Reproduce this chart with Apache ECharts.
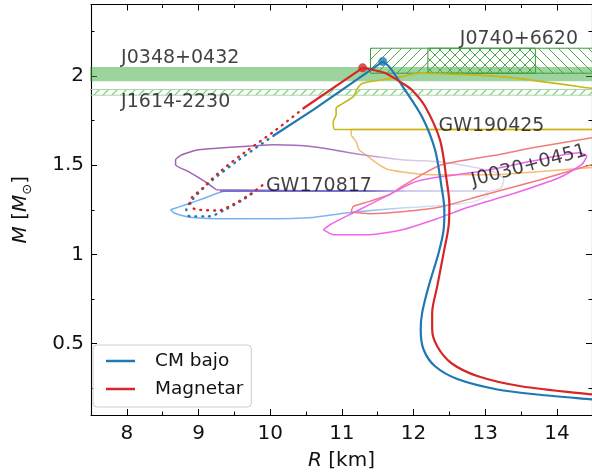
<!DOCTYPE html>
<html style="height: 100%">
<head>
<meta charset="utf-8">
<script src="https://cdn.jsdelivr.net/npm/echarts@6/dist/echarts.min.js"></script>
</head>
<body style="height: 100%; margin: 0">
<div id="container" style="width: 592px; height: 476px"></div>
<script>

// ticks
var rTicks = [8, 9, 10, 11, 12, 13, 14];
var rMinorTicks = [7.5, 8.5, 9.5, 10.5, 11.5, 12.5, 13.5];
var mTicks = [0.5, 1, 1.5, 2];
var mMinorTicks = [0.25, 0.75, 1.25, 1.75, 2.25];

// mass-radius curves, [R km, M Msun]
var cmStable = [[14.70, 0.180], [14.49, 0.187], [13.72, 0.215], [13.17, 0.243], [12.62, 0.300], [12.30, 0.373],
    [12.14, 0.467], [12.10, 0.579], [12.12, 0.672], [12.21, 0.820], [12.35, 1.008], [12.42, 1.138], [12.43, 1.250],
    [12.39, 1.380], [12.30, 1.586], [12.12, 1.770], [11.85, 1.940], [11.66, 2.052], [11.57, 2.080]];
var cmUnstable = [[11.57, 2.080], [10.60, 1.810], [10.05, 1.666]];
var cmDotted = [[10.05, 1.666], [9.55, 1.526], [9.16, 1.405], [8.90, 1.300], [8.83, 1.250], [8.88, 1.213],
    [9.14, 1.213], [9.37, 1.250], [9.62, 1.306], [9.78, 1.350]];
var cmMax = [11.57, 2.080];

var magStable = [[14.70, 0.208], [14.49, 0.215], [13.50, 0.261], [12.90, 0.317], [12.53, 0.390], [12.33, 0.485],
    [12.26, 0.580], [12.26, 0.672], [12.33, 0.820], [12.42, 1.008], [12.49, 1.160], [12.50, 1.280], [12.46, 1.420],
    [12.37, 1.640], [12.16, 1.830], [11.98, 1.920], [11.84, 1.960], [11.61, 2.015], [11.43, 2.034], [11.29, 2.045]];
var magUnstable = [[11.29, 2.045], [10.47, 1.820]];
var magDotted = [[10.47, 1.820], [10.05, 1.688], [9.66, 1.576], [9.30, 1.464], [9.05, 1.368], [8.88, 1.297],
    [8.92, 1.260], [9.00, 1.250], [9.27, 1.246], [9.50, 1.284], [9.71, 1.334], [9.92, 1.396]];
var magMax = [11.29, 2.045];

// pulsar mass bands [Rmin, Rmax, Mmin, Mmax]
var j0348 = [7.0, 15.0, 1.970, 2.050];
var j1614 = [7.0, 15.0, 1.892, 1.924];
var j0740a = [11.40, 13.70, 2.015, 2.155];
var j0740b = [12.20, 16.30, 2.015, 2.155];

// contours
var gw170817a = [[9.25, 1.362], [10.50, 1.356], [12.00, 1.355], [13.04, 1.353], [13.22, 1.373], [13.26, 1.418],
    [13.15, 1.457], [12.81, 1.491], [12.39, 1.518], [11.84, 1.530], [11.29, 1.558], [10.60, 1.603], [10.05, 1.614],
    [9.78, 1.608], [9.00, 1.586], [8.77, 1.558], [8.68, 1.530], [8.68, 1.502], [8.86, 1.464], [9.09, 1.408], [9.25, 1.362]];
var gw170817b = [[8.61, 1.250], [8.82, 1.278], [9.09, 1.316], [9.37, 1.353], [10.50, 1.354], [12.00, 1.354],
    [12.99, 1.353], [13.04, 1.334], [12.85, 1.297], [12.53, 1.278], [11.84, 1.260], [11.06, 1.232], [10.60, 1.207],
    [9.92, 1.200], [9.46, 1.200], [8.91, 1.207], [8.66, 1.232], [8.61, 1.250]];
var gw170817Edge = [[9.30, 1.355], [13.00, 1.355]];
var gw190425a = [[14.90, 1.700], [10.90, 1.700], [10.88, 1.744], [10.92, 1.782], [10.92, 1.819], [11.02, 1.847],
    [11.16, 1.884], [11.22, 1.931], [11.29, 1.959], [11.57, 1.978], [11.84, 1.996], [12.07, 2.015], [13.22, 1.996],
    [14.49, 1.930], [14.90, 1.905]];
var gw190425b = [[11.13, 1.700], [11.13, 1.670], [11.20, 1.632], [11.24, 1.586], [11.39, 1.541], [11.52, 1.502],
    [11.66, 1.474], [11.98, 1.455], [12.30, 1.446], [13.08, 1.446], [13.77, 1.464], [14.49, 1.487], [14.90, 1.500],
    [14.90, 1.700], [11.13, 1.700]];
var j0030a = [[11.13, 1.237], [11.16, 1.269], [11.385, 1.297], [11.66, 1.334], [11.84, 1.381], [12.07, 1.436],
    [12.39, 1.502], [13.20, 1.560], [13.66, 1.597], [14.49, 1.653], [14.90, 1.680], [14.90, 1.520], [14.49, 1.502],
    [13.77, 1.418], [12.94, 1.328], [12.39, 1.267], [11.84, 1.239], [11.385, 1.228], [11.13, 1.237]];
var j0030b = [[10.74, 1.138], [10.835, 1.166], [11.155, 1.232], [11.614, 1.325], [11.98, 1.400], [12.284, 1.429],
    [12.97, 1.467], [13.66, 1.523], [14.307, 1.569], [14.417, 1.551], [14.348, 1.504], [14.03, 1.429], [13.43, 1.345],
    [12.74, 1.261], [12.33, 1.200], [11.84, 1.138], [11.385, 1.110], [10.88, 1.110], [10.74, 1.138]];

// annotations
var labelTexts = ['J0348+0432', 'J1614-2230', 'J0740+6620', 'GW190425', 'GW170817', 'J0030+0451'];
var labelAnchors = [[7.99, 2.100], [7.99, 1.852], [12.715, 2.207], [12.417, 1.717], [10.01, 1.382], [13.61, 1.496]];
var labelAngles = [0, 0, 0, 0, 0, 15];

var FONT = 'DejaVu Sans';
var BLUE = '#1f77b4', RED = '#d62728';

function hatch(color, dir, step, lw) {
    var c = document.createElement('canvas');
    c.width = step; c.height = step;
    var g = c.getContext('2d');
    g.strokeStyle = color; g.lineWidth = lw;
    g.beginPath();
    if (dir > 0) {
        g.moveTo(-1, step + 1); g.lineTo(step + 1, -1);
        g.moveTo(-1, 1); g.lineTo(1, -1);
        g.moveTo(step - 1, step + 1); g.lineTo(step + 1, step - 1);
    } else {
        g.moveTo(-1, -1); g.lineTo(step + 1, step + 1);
        g.moveTo(step - 1, -1); g.lineTo(step + 1, 1);
        g.moveTo(-1, step - 1); g.lineTo(1, step + 1);
    }
    g.stroke();
    return { image: c, repeat: 'repeat' };
}

function band(data, fill, stroke, lw) {
    return {
        type: 'custom', data: [data], clip: true, silent: true, z: 1,
        renderItem: function (params, api) {
            var lo = api.coord([api.value(0), api.value(2)]);
            var hi = api.coord([api.value(1), api.value(3)]);
            return {
                type: 'rect',
                shape: { x: lo[0], y: hi[1], width: hi[0] - lo[0], height: lo[1] - hi[1] },
                style: { fill: fill, stroke: stroke, lineWidth: lw }
            };
        }
    };
}

function curve(data, color, width, z, smooth, name) {
    return {
        name: name, type: 'line', data: data, symbol: 'none', showSymbol: false, smooth: smooth,
        lineStyle: { color: color, width: width }, itemStyle: { color: color }, z: z, silent: true
    };
}

function dotted(data, color) {
    var s = curve(data, color, 2.4, 3, 0.3);
    s.lineStyle = { color: color, width: 2.4, type: [0.8, 6], cap: 'round' };
    return s;
}

function hgrad(stops) {
    return new echarts.graphic.LinearGradient(0, 0, 1, 0, stops.map(function (s) {
        return { offset: s[0], color: s[1] };
    }));
}

var dom = document.getElementById('container');
var myChart = echarts.init(dom);

var axisBase = { type: 'value', min: 7.5, max: 14.49, splitLine: { show: false } };
var yBase = { type: 'value', min: 0.1, max: 2.4, splitLine: { show: false } };
var lineBlack = { show: true, lineStyle: { color: '#000', width: 1.1 } };

function xAx(pos, major, extra) {
    return Object.assign({}, axisBase, {
        position: pos,
        axisLine: major ? lineBlack : { show: false },
        axisTick: { show: true, inside: true, length: major ? 6 : 3.5, customValues: major ? rTicks : rMinorTicks,
            lineStyle: { color: '#000', width: 1 } },
        axisLabel: { show: false }
    }, extra || {});
}
function yAx(pos, major, extra) {
    return Object.assign({}, yBase, {
        position: pos,
        axisLine: major ? lineBlack : { show: false },
        axisTick: { show: true, inside: true, length: major ? 6 : 3.5, customValues: major ? mTicks : mMinorTicks,
            lineStyle: { color: '#000', width: 1 } },
        axisLabel: { show: false }
    }, extra || {});
}

var option = {
    animation: false,
    backgroundColor: '#ffffff',
    grid: { left: 84, right: 0, top: 4.5, bottom: 60.5 },
    xAxis: [
        xAx('bottom', true, {
            axisLabel: { show: true, customValues: rTicks, margin: 9, fontSize: 20, fontFamily: FONT, color: '#111' },
            name: '{i|R} [km]', nameLocation: 'middle', nameGap: 36,
            nameTextStyle: { fontSize: 20, fontFamily: FONT, color: '#111', rich: { i: { fontStyle: 'italic', fontSize: 20, fontFamily: FONT } } }
        }),
        xAx('bottom', false),
        xAx('top', true),
        xAx('top', false)
    ],
    yAxis: [
        yAx('left', true, {
            axisLabel: { show: true, customValues: mTicks, margin: 7, fontSize: 20, fontFamily: FONT, color: '#111' },
            name: '{i|M} [{i|M}{s|⊙}]', nameLocation: 'middle', nameGap: 57, nameRotate: 90,
            nameTextStyle: { fontSize: 20, fontFamily: FONT, color: '#111', lineHeight: 26,
                rich: { i: { fontStyle: 'italic', fontSize: 20, fontFamily: FONT, lineHeight: 26 },
                        s: { fontSize: 13, fontFamily: FONT, verticalAlign: 'bottom', lineHeight: 26 } } }
        }),
        yAx('left', false),
        yAx('right', true),
        yAx('right', false)
    ],
    legend: {
        left: 93, top: 345, orient: 'vertical', data: ['CM bajo', 'Magnetar'],
        icon: 'rect', itemWidth: 29, itemHeight: 2.5, itemGap: 8,
        padding: [6, 8, 8, 13], backgroundColor: 'rgba(255,255,255,0.85)',
        borderColor: '#cccccc', borderWidth: 1, borderRadius: 4,
        textStyle: { fontFamily: FONT, fontSize: 18.5, color: '#111', lineHeight: 20, padding: [0, 0, 0, 15] }
    },
    series: [
        band(j0348, 'rgba(60,170,60,0.5)', null, 0),
        band(j1614, hatch('#7cc57c', 1, 9, 1.2), '#a6d8a6', 1),
        band(j0740a, hatch('#4aa84a', 1, 10, 1), '#3d9b3d', 1),
        band(j0740b, hatch('#4aa84a', -1, 10, 1), '#3d9b3d', 1),

        curve(gw190425b, '#f6bd72', 1.5, 2, 0.2),
        curve(gw190425a, '#c8b614', 1.6, 2, 0.2),
        curve(gw170817a, hgrad([[0, '#9c62b5'], [0.5, '#a670bf'], [0.68, '#d8c8e6'], [1, '#e2d8ee']]), 1.5, 2, 0.2),
        curve(gw170817b, hgrad([[0, '#74b0ee'], [0.6, '#80b8f0'], [0.75, '#c8dcf4'], [1, '#dce8f6']]), 1.5, 2, 0.2),
        curve(gw170817Edge, hgrad([[0, '#6e5cc8'], [0.55, '#6e5cc8'], [0.7, '#d0c8ee'], [1, '#dcd6f0']]), 1.6, 2, false),
        curve(j0030a, '#f07c7c', 1.5, 2, 0.2),
        curve(j0030b, '#ee66ee', 1.5, 2, 0.2),

        curve(cmStable, BLUE, 2.2, 3, 0.3, 'CM bajo'),
        curve(cmUnstable, BLUE, 2.2, 3, false),
        dotted(cmDotted, BLUE),
        curve(magStable, RED, 2.2, 3, 0.3, 'Magnetar'),
        curve(magUnstable, RED, 2.2, 3, false),
        dotted(magDotted, RED),
        { type: 'scatter', data: [cmMax], symbolSize: 9, itemStyle: { color: BLUE }, z: 4, silent: true },
        { type: 'scatter', data: [magMax], symbolSize: 9, itemStyle: { color: RED }, z: 4, silent: true },

        {
            type: 'scatter', symbolSize: 0, z: 5, silent: true,
            data: labelTexts.map(function (t, i) {
                var rot = labelAngles[i];
                return {
                    name: t, value: labelAnchors[i],
                    label: {
                        show: true, formatter: '{b}', rotate: rot,
                        position: 'inside', distance: 0, offset: rot ? [0, 0] : [-5, 0],
                        align: rot ? 'center' : 'left', verticalAlign: 'middle',
                        fontFamily: FONT, fontSize: 19, color: '#111'
                    }
                };
            })
        }
    ]
};

if (option && typeof option === 'object') {
    myChart.setOption(option);
}
</script>
</body>
</html>
